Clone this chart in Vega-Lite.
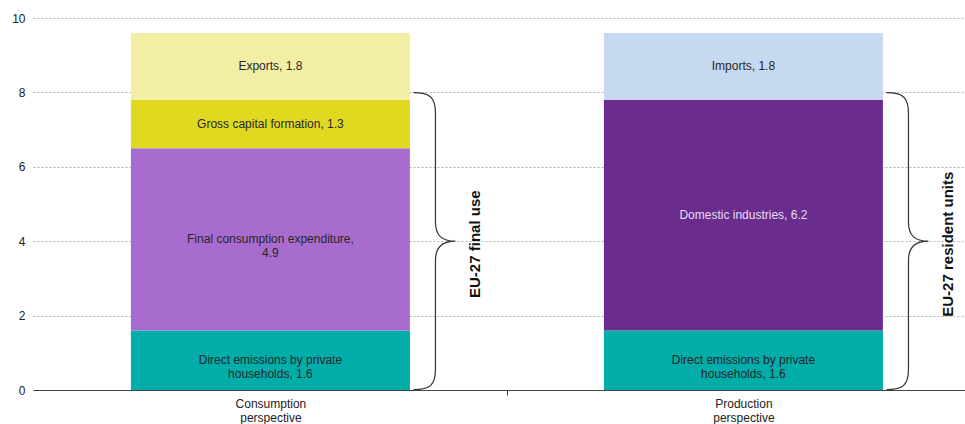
{
  "$schema": "https://vega.github.io/schema/vega-lite/v6.json",
  "width": 932,
  "height": 372,
  "autosize": {"type": "none"},
  "padding": {"left": 33, "top": 18, "right": 0, "bottom": 34},
  "background": "white",
  "config": {
    "view": {"stroke": null},
    "font": "Liberation Sans"
  },
  "datasets": {
    "parts": [
      {"perspective": "Consumption perspective", "component": "Direct emissions by private households", "label": "Direct emissions by private\nhouseholds, 1.6", "value": 1.6, "order": 1},
      {"perspective": "Consumption perspective", "component": "Final consumption expenditure", "label": "Final consumption expenditure,\n4.9", "value": 4.9, "order": 2},
      {"perspective": "Consumption perspective", "component": "Gross capital formation", "label": "Gross capital formation, 1.3", "value": 1.3, "order": 3},
      {"perspective": "Consumption perspective", "component": "Exports", "label": "Exports, 1.8", "value": 1.8, "order": 4},
      {"perspective": "Production perspective", "component": "Direct emissions by private households", "label": "Direct emissions by private\nhouseholds, 1.6", "value": 1.6, "order": 1},
      {"perspective": "Production perspective", "component": "Domestic industries", "label": "Domestic industries, 6.2", "value": 6.2, "order": 2},
      {"perspective": "Production perspective", "component": "Imports", "label": "Imports, 1.8", "value": 1.8, "order": 4}
    ],
    "braces": [
      {"perspective": "Consumption perspective", "brace": "EU-27 final use", "from": 0, "to": 8},
      {"perspective": "Production perspective", "brace": "EU-27 resident units", "from": 0, "to": 8}
    ]
  },
  "encoding": {
    "x": {
      "field": "perspective",
      "type": "nominal",
      "sort": ["Consumption perspective", "Production perspective"],
      "scale": {"paddingInner": 0.4101, "paddingOuter": 0.19025, "align": 0.544},
      "axis": {
        "title": null,
        "labelAngle": 0,
        "labelExpr": "split(datum.label, ' ')",
        "labelFont": "Liberation Sans",
        "labelFontSize": 12,
        "labelColor": "#222222",
        "labelLineHeight": 14,
        "labelPadding": 3,
        "tickOffset": 236.5,
        "labelOffset": -236.5,
        "tickSize": 5,
        "tickColor": "#333333",
        "domainColor": "#444444",
        "grid": false
      }
    }
  },
  "layer": [
    {
      "data": {"name": "parts"},
      "mark": {"type": "bar"},
      "encoding": {
        "y": {
          "field": "value",
          "type": "quantitative",
          "stack": "zero",
          "scale": {"domain": [0, 10], "nice": false},
          "axis": {
            "title": null,
            "values": [0, 2, 4, 6, 8, 10],
            "domain": false,
            "ticks": false,
            "labelFont": "Liberation Sans",
            "labelFontSize": 12,
            "labelColor": "#222222",
            "labelPadding": 8,
            "gridColor": "#b4b4b4",
            "gridDash": [2, 2],
            "gridWidth": 1
          }
        },
        "color": {
          "field": "component",
          "type": "nominal",
          "legend": null,
          "scale": {
            "domain": ["Direct emissions by private households", "Final consumption expenditure", "Gross capital formation", "Exports", "Domestic industries", "Imports"],
            "range": ["#00ADA9", "#A86CCF", "#E1D91F", "#F2EEA6", "#6A2D8E", "#C6D9F0"]
          }
        },
        "order": {"field": "order", "type": "quantitative"}
      }
    },
    {
      "data": {"name": "parts"},
      "transform": [
        {"stack": "value", "groupby": ["perspective"], "sort": [{"field": "order"}], "as": ["y0", "y1"]},
        {"calculate": "(datum.y0 + datum.y1) / 2", "as": "mid"}
      ],
      "mark": {"type": "text", "font": "Liberation Sans", "fontSize": 12, "lineBreak": "\n", "lineHeight": 14, "align": "center", "baseline": "middle"},
      "encoding": {
        "y": {"field": "mid", "type": "quantitative"},
        "text": {"field": "label"},
        "color": {
          "condition": {"test": "datum.component === 'Domestic industries'", "value": "#E8DDF2"},
          "value": "#262626"
        }
      }
    },
    {
      "data": {"name": "braces"},
      "transform": [{"calculate": "(datum.from + datum.to) / 2", "as": "mid"}],
      "mark": {
        "type": "point",
        "filled": false,
        "xOffset": 164,
        "stroke": "#333333",
        "strokeWidth": 1.2,
        "opacity": 1,
        "shape": "M-0.141,-1 C-0.03,-1 0.007,-0.97 0.007,-0.86 L0.007,-0.13 C0.007,-0.04 0.05,0 0.141,0 C0.05,0 0.007,0.04 0.007,0.13 L0.007,0.86 C0.007,0.97 -0.03,1 -0.141,1",
        "size": 88209
      },
      "encoding": {
        "y": {"field": "mid", "type": "quantitative"}
      }
    },
    {
      "data": {"name": "braces"},
      "transform": [{"calculate": "(datum.from + datum.to) / 2", "as": "mid"}],
      "mark": {"type": "text", "angle": 270, "font": "Liberation Sans", "fontSize": 15, "fontWeight": "bold", "color": "#111111", "xOffset": 205, "yOffset": 3, "align": "center", "baseline": "middle"},
      "encoding": {
        "y": {"field": "mid", "type": "quantitative"},
        "text": {"field": "brace"}
      }
    }
  ]
}
